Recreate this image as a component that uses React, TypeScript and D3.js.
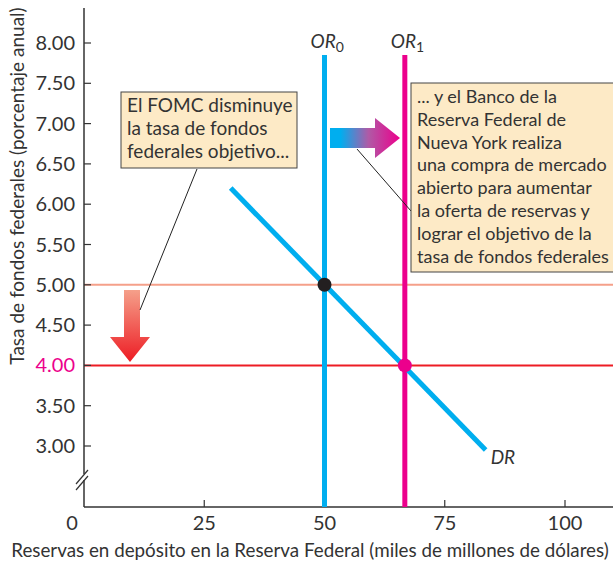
import * as d3 from 'd3';
import { useEffect, useRef } from 'react';

// Values
const xTicks = [0, 25, 50, 75, 100];
const yTicks = [3, 3.5, 4, 4.5, 5, 5.5, 6, 6.5, 7, 7.5, 8];
const supplyLabels = ['0', '1'];
const supplyQuantities = [50, 66.7];           // OR0, OR1
const targetRates = [5, 4];                    // old and new target
const demandX = [30.5, 83.5];                  // DR end points
const demandY = [6.2, 2.95];
const leftNote = ['El FOMC disminuye', 'la tasa de fondos', 'federales objetivo...'];
const rightNote = [
  '... y el Banco de la',
  'Reserva Federal de',
  'Nueva York realiza',
  'una compra de mercado',
  'abierto para aumentar',
  'la oferta de reservas y',
  'lograr el objetivo de la',
  'tasa de fondos federales',
];

const FONT = 'Lato, "Noto Sans", sans-serif';
const CYAN = '#00aeef';
const MAGENTA = '#ec008c';
const RED = '#ed1c24';
const SALMON = '#f5a08a';
const BOX = '#fdeac6';

const ReserveChart = () => {
  const ref = useRef<SVGSVGElement>(null);

  useEffect(() => {
    const svg = d3.select(ref.current);
    svg.selectAll('*').remove();

    const width = 613, height = 562;
    const axisX = 84, axisY = 507;

    const x = d3.scaleLinear().domain([0, 100]).range([84, 565]);
    const y = d3.scaleLinear().domain([3, 8]).range([446, 43]);

    svg.attr('width', width).attr('height', height);

    const defs = svg.append('defs');
    const gDown = defs.append('linearGradient').attr('id', 'gDown')
      .attr('x1', 0).attr('y1', 0).attr('x2', 0).attr('y2', 1);
    gDown.append('stop').attr('offset', '0%').attr('stop-color', SALMON);
    gDown.append('stop').attr('offset', '100%').attr('stop-color', RED);
    const gRight = defs.append('linearGradient').attr('id', 'gRight')
      .attr('x1', 0).attr('y1', 0).attr('x2', 1).attr('y2', 0);
    gRight.append('stop').attr('offset', '15%').attr('stop-color', CYAN);
    gRight.append('stop').attr('offset', '55%').attr('stop-color', '#b05aa6');
    gRight.append('stop').attr('offset', '100%').attr('stop-color', MAGENTA);

    // horizontal target-rate lines
    svg.selectAll('line.rate')
      .data(targetRates)
      .enter()
      .append('line')
      .attr('x1', axisX).attr('x2', width)
      .attr('y1', d => y(d)).attr('y2', d => y(d))
      .attr('stroke', (d, i) => (i === 0 ? SALMON : RED))
      .attr('stroke-width', 2);

    // axes
    svg.append('line')
      .attr('x1', axisX).attr('x2', axisX).attr('y1', 8).attr('y2', axisY)
      .attr('stroke', '#333').attr('stroke-width', 1.5);
    svg.append('line')
      .attr('x1', axisX).attr('x2', width).attr('y1', axisY).attr('y2', axisY)
      .attr('stroke', '#333').attr('stroke-width', 1.5);

    // axis break
    svg.append('rect').attr('x', axisX - 2).attr('y', 474).attr('width', 4).attr('height', 6).attr('fill', 'white');
    [0, 6].forEach(off => {
      svg.append('line')
        .attr('x1', axisX - 8).attr('y1', 484 + off)
        .attr('x2', axisX + 4).attr('y2', 470 + off)
        .attr('stroke', '#333').attr('stroke-width', 1.2);
    });

    // y ticks
    svg.selectAll('line.ytick')
      .data(yTicks)
      .enter()
      .append('line')
      .attr('x1', axisX).attr('x2', axisX + 7)
      .attr('y1', d => y(d)).attr('y2', d => y(d))
      .attr('stroke', '#333').attr('stroke-width', 1.2);
    svg.selectAll('text.ytick')
      .data(yTicks)
      .enter()
      .append('text')
      .attr('x', axisX - 9).attr('y', d => y(d))
      .attr('dy', '0.35em')
      .attr('text-anchor', 'end')
      .attr('font-family', FONT).attr('font-size', 20)
      .attr('fill', d => (d === 4 ? MAGENTA : '#333'))
      .text(d => d.toFixed(2));

    // x ticks
    svg.selectAll('line.xtick')
      .data(xTicks.filter(d => d > 0))
      .enter()
      .append('line')
      .attr('x1', d => x(d)).attr('x2', d => x(d))
      .attr('y1', axisY).attr('y2', axisY - 7)
      .attr('stroke', '#333').attr('stroke-width', 1.2);
    svg.selectAll('text.xtick')
      .data(xTicks)
      .enter()
      .append('text')
      .attr('x', d => (d === 0 ? x(d) - 12 : x(d)))
      .attr('y', 530)
      .attr('text-anchor', 'middle')
      .attr('font-family', FONT).attr('font-size', 20)
      .attr('fill', '#333')
      .text(d => String(d));

    // axis titles
    svg.append('text')
      .attr('transform', `translate(24, 186) rotate(-90)`)
      .attr('text-anchor', 'middle')
      .attr('font-family', FONT).attr('font-size', 19)
      .attr('fill', '#333')
      .text('Tasa de fondos federales (porcentaje anual)');
    svg.append('text')
      .attr('x', 310).attr('y', 557)
      .attr('text-anchor', 'middle')
      .attr('font-family', FONT).attr('font-size', 18.8)
      .attr('fill', '#333')
      .text('Reservas en depósito en la Reserva Federal (miles de millones de dólares)');

    // supply curves OR0, OR1
    svg.selectAll('line.supply')
      .data(supplyQuantities)
      .enter()
      .append('line')
      .attr('x1', d => x(d)).attr('x2', d => x(d))
      .attr('y1', 55).attr('y2', axisY)
      .attr('stroke', (d, i) => (i === 0 ? CYAN : MAGENTA))
      .attr('stroke-width', 5);
    supplyQuantities.forEach((q, i) => {
      const t = svg.append('text')
        .attr('x', x(q) - 14).attr('y', 48)
        .attr('font-family', FONT).attr('font-size', 19)
        .attr('fill', '#333');
      t.append('tspan').attr('font-style', 'italic').text('OR');
      t.append('tspan').attr('dy', 4).attr('font-size', 14).text(supplyLabels[i]);
    });

    // demand curve DR
    const line = d3.line<number>().x(d => x(d)).y((d, i) => y(demandY[i]));
    svg.append('path')
      .attr('d', line(demandX))
      .attr('stroke', CYAN).attr('stroke-width', 5).attr('fill', 'none');
    svg.append('text')
      .attr('x', x(demandX[1]) + 5).attr('y', y(demandY[1]) + 14)
      .attr('font-family', FONT).attr('font-size', 19).attr('font-style', 'italic')
      .attr('fill', '#333')
      .text('DR');

    // equilibrium points
    svg.selectAll('circle.eq')
      .data(supplyQuantities)
      .enter()
      .append('circle')
      .attr('cx', d => x(d)).attr('cy', (d, i) => y(targetRates[i]))
      .attr('r', 7)
      .attr('fill', (d, i) => (i === 0 ? '#231f20' : MAGENTA));

    // down arrow (rate cut)
    svg.append('path')
      .attr('d', 'M124,290 L140,290 L140,337 L150,337 L130,362 L110,337 L124,337 Z')
      .attr('fill', 'url(#gDown)');

    // right arrow (open market purchase)
    svg.append('path')
      .attr('d', 'M330,128 L375,128 L375,118 L400,138 L375,158 L375,148 L330,148 Z')
      .attr('fill', 'url(#gRight)');

    // leader lines
    svg.append('line').attr('x1', 197).attr('y1', 169).attr('x2', 140).attr('y2', 310)
      .attr('stroke', '#222').attr('stroke-width', 1);
    svg.append('line').attr('x1', 357).attr('y1', 149).attr('x2', 411).attr('y2', 211)
      .attr('stroke', '#222').attr('stroke-width', 1);

    // note boxes
    const note = (lines: string[], bx: number, by: number, bw: number, bh: number, lh: number, fs: number) => {
      svg.append('rect')
        .attr('x', bx).attr('y', by).attr('width', bw).attr('height', bh)
        .attr('fill', BOX).attr('stroke', '#444').attr('stroke-width', 1);
      svg.append('g').selectAll('text')
        .data(lines)
        .enter()
        .append('text')
        .attr('x', bx + 6).attr('y', (d, i) => by + 20 + i * lh)
        .attr('font-family', FONT).attr('font-size', fs)
        .attr('fill', '#333')
        .text(d => d);
    };
    note(leftNote, 121, 92, 176, 76, 23, 19);
    note(rightNote, 411, 83, 230, 189, 22.8, 18);
  }, []);

  return <svg ref={ref} style={{ position: 'absolute', left: 0, top: 0 }}></svg>;
};

export default function App() {
  return <ReserveChart />;
}
